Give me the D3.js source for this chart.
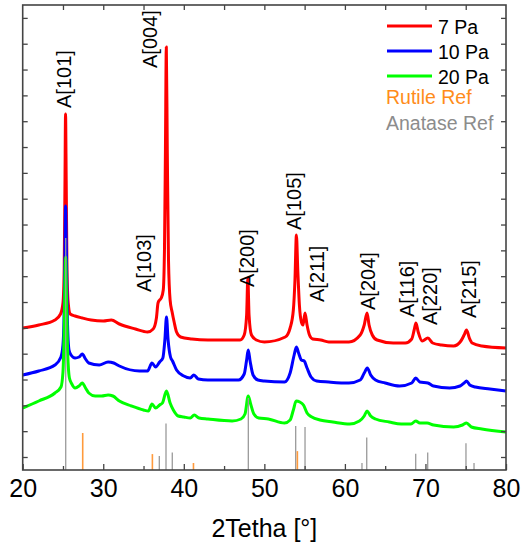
<!DOCTYPE html>
<html>
<head>
<meta charset="utf-8">
<script src="https://cdn.jsdelivr.net/npm/d3@7"></script>
<style>
  body { margin: 0; background: #ffffff; }
  text { font-family: "Liberation Sans", Arial, sans-serif; }
</style>
</head>
<body>
<div class="grafico"></div>
<script>
// 2Theta positions [deg] and intensities [a.u., offset already applied]
var theta7 = [20.0, 22.0, 24.0, 24.7, 25.0, 25.15, 25.25, 25.32, 25.4, 25.5, 25.65, 25.9, 26.5, 27.4, 28.5, 30.0, 31.0, 32.0, 34.0, 35.5,
  36.2, 36.6, 36.8, 37.0, 37.2, 37.45, 37.6, 37.72, 37.83, 37.95, 38.1, 38.3, 38.55, 38.8, 39.1, 39.6, 41.0, 43.0, 45.0, 47.0,
  47.5, 47.8, 47.95, 48.1, 48.4, 49.0, 50.0, 52.6, 53.2, 53.6, 53.8, 53.98, 54.15, 54.35, 54.6, 54.8, 55.05, 55.3, 55.6, 56.0,
  57.0, 58.0, 60.5, 61.9, 62.4, 62.75, 63.0, 63.4, 64.0, 66.0, 67.5, 68.3, 68.6, 68.82, 69.1, 69.6, 70.3, 70.9, 72.0, 73.5,
  74.4, 74.8, 75.1, 75.45, 75.8, 77.0, 80.0];
var int7 = [142, 145, 150, 156, 167, 200, 290, 356, 290, 200, 167, 156, 154, 152, 150, 149, 150, 146, 141, 138,
  141, 152, 167, 170, 172, 180, 220, 320, 423, 320, 210, 170, 158, 148, 138, 133, 131, 130, 130, 130,
  135, 155, 192, 155, 135, 130, 128, 133, 142, 160, 190, 235, 200, 165, 148, 145, 157, 145, 135, 131,
  130, 128, 128, 135, 145, 157, 145, 135, 130, 127, 127, 131, 140, 147, 138, 129, 132, 127, 125, 124,
  129, 135, 140, 132, 127, 124, 122];

var theta10 = [20.0, 22.0, 24.0, 24.75, 25.0, 25.15, 25.25, 25.32, 25.42, 25.55, 25.75, 26.0, 26.5, 27.0, 27.4, 27.8, 28.2, 29.5, 30.6, 31.3,
  32.0, 34.5, 35.5, 36.05, 36.5, 37.0, 37.4, 37.65, 37.85, 38.05, 38.35, 38.6, 39.1, 40.0, 40.8, 41.25, 41.8, 43.0, 46.8, 47.5,
  47.8, 48.0, 48.25, 48.6, 49.2, 50.0, 52.5, 53.2, 53.7, 53.98, 54.25, 54.6, 54.95, 55.3, 55.8, 56.5, 58.0, 60.5, 61.9, 62.4,
  62.78, 63.2, 63.8, 65.0, 66.8, 68.3, 68.8, 69.3, 70.3, 71.0, 73.0, 74.3, 74.8, 75.1, 75.5, 76.2, 78.0, 80.0];
var int10 = [95, 99, 105, 113, 125, 160, 220, 264, 220, 150, 120, 115, 112, 113, 116, 111, 107, 105, 108, 107,
  104, 99, 99, 107, 103, 108, 112, 130, 153, 130, 113, 109, 100, 94, 92, 95, 91, 90, 90, 96,
  110, 120, 108, 95, 90, 89, 88, 97, 115, 123, 117, 110, 109, 102, 93, 89, 88, 87, 90, 97,
  102, 95, 90, 87, 84, 87, 92, 88, 87, 84, 82, 84, 87, 89, 85, 83, 81, 79];

var theta20 = [20.0, 22.0, 24.0, 24.75, 25.0, 25.15, 25.25, 25.32, 25.42, 25.55, 25.8, 26.1, 26.5, 27.0, 27.4, 27.8, 28.2, 29.0, 29.8, 30.6,
  31.2, 32.0, 33.5, 35.0, 35.6, 36.05, 36.5, 37.0, 37.35, 37.85, 38.3, 38.7, 39.3, 40.0, 40.8, 41.3, 41.9, 43.0, 46.0, 47.1,
  47.6, 48.0, 48.3, 48.7, 49.3, 50.5, 52.5, 53.2, 53.6, 53.95, 54.4, 54.85, 55.3, 55.9, 56.9, 58.5, 60.6, 61.8, 62.4, 62.75,
  63.2, 63.8, 65.5, 67.0, 68.2, 68.8, 69.3, 70.2, 71.0, 73.5, 74.6, 75.1, 75.7, 77.0, 80.0];
var int20 = [62, 69, 77, 83, 98, 140, 190, 213, 180, 125, 92, 86, 82, 84, 87, 82, 77, 74, 74, 75,
  74, 69, 64, 60, 59, 66, 62, 65, 67, 79, 67, 60, 54, 53, 52, 55, 52, 51, 49, 51,
  56, 74, 66, 56, 52, 51, 47, 50, 60, 69, 68, 65, 57, 53, 50, 48, 46, 49, 54, 59,
  54, 51, 48, 46, 46, 49, 47, 47, 45, 43, 45, 47, 43, 41, 38];

// reference patterns (relative intensity %)
var anataseTheta = [25.34, 36.96, 37.79, 38.57, 48.01, 53.89, 55.05, 62.12, 62.71, 68.79, 70.28, 75.03, 76.03];
var anataseInt = [100, 6, 20, 7.5, 31, 19, 18.5, 3, 14, 7, 7.5, 11.5, 3];
var rutileTheta = [27.45, 36.1, 41.2, 54.1];
var rutileInt = [100, 43, 19, 51];

var series = ['7 Pa', '10 Pa', '20 Pa'];
var colores = ['#ff0000', '#0000ff', '#00ff00'];

var picos = ['A[101]', 'A[004]', 'A[103]', 'A[200]', 'A[105]', 'A[211]', 'A[204]', 'A[116]', 'A[220]', 'A[215]'];
var picosTheta = [25.25, 35.87, 35.18, 47.91, 53.8, 56.6, 62.99, 67.83, 70.75, 75.53];
var picosNivel = [362, 402, 178, 183, 240, 168, 160, 153, 145, 152];

var xTicks = [20, 30, 40, 50, 60, 70, 80];

var ancho = 521, alto = 545;
var izq = 22.7, der = 506, arriba = 5, abajo = 470;

var svg = d3.select('.grafico')
  .append('svg')
  .attr('width', ancho)
  .attr('height', alto);

var xScale = d3.scaleLinear().domain([20, 80]).range([izq, der]);
var yScale = d3.scaleLinear().domain([0, 465]).range([abajo, arriba]);
// stick heights
var yAnatase = d3.scaleLinear().domain([0, 100]).range([0, 232]);
var yRutile = d3.scaleLinear().domain([0, 100]).range([0, 37]);

var linea = d3.line()
  .x(function (d) { return xScale(d[0]); })
  .y(function (d) { return yScale(d[1]); })
  .curve(d3.curveMonotoneX);

var datos = [d3.zip(theta7, int7), d3.zip(theta10, int10), d3.zip(theta20, int20)];

svg.selectAll('path.curva')
  .data(datos)
  .enter()
  .append('path')
  .attr('class', 'curva')
  .attr('d', linea)
  .attr('fill', 'none')
  .attr('stroke', function (d, i) { return colores[i]; })
  .attr('stroke-width', 3)
  .attr('stroke-linejoin', 'round');

// reference sticks
svg.selectAll('line.anatasa')
  .data(d3.zip(anataseTheta, anataseInt))
  .enter()
  .append('line')
  .attr('class', 'anatasa')
  .attr('x1', function (d) { return xScale(d[0]); })
  .attr('x2', function (d) { return xScale(d[0]); })
  .attr('y1', abajo)
  .attr('y2', function (d) { return abajo - yAnatase(d[1]); })
  .attr('stroke', '#9a9a9a')
  .attr('stroke-width', 1.3);

svg.selectAll('line.rutilo')
  .data(d3.zip(rutileTheta, rutileInt))
  .enter()
  .append('line')
  .attr('class', 'rutilo')
  .attr('x1', function (d) { return xScale(d[0]); })
  .attr('x2', function (d) { return xScale(d[0]); })
  .attr('y1', abajo)
  .attr('y2', function (d) { return abajo - yRutile(d[1]); })
  .attr('stroke', '#ff9a3c')
  .attr('stroke-width', 1.6);

// axes, ticks pointing inward
var ejeX = svg.append('g')
  .attr('transform', 'translate(0,' + abajo + ')')
  .call(d3.axisBottom(xScale).tickValues(xTicks).tickSize(-6).tickPadding(9).tickFormat(d3.format('d')));

svg.append('g')
  .attr('transform', 'translate(0,' + abajo + ')')
  .call(d3.axisBottom(xScale).tickValues([25, 35, 45, 55, 65, 75]).tickSize(-4).tickFormat(''));

svg.append('g')
  .attr('transform', 'translate(0,' + arriba + ')')
  .call(d3.axisTop(xScale).tickValues(d3.range(25, 80, 5)).tickSize(-5).tickFormat(''));

var yTicks = d3.range(0, 18).map(function (k) { return 13 + k * 25.83; });

svg.append('g')
  .attr('transform', 'translate(' + izq + ',0)')
  .call(d3.axisLeft(yScale).tickValues(yTicks).tickSize(-5).tickFormat(''));

svg.append('g')
  .attr('transform', 'translate(' + der + ',0)')
  .call(d3.axisRight(yScale).tickValues(yTicks).tickSize(-5).tickFormat(''));

svg.selectAll('.domain').remove();
svg.selectAll('.tick line').attr('stroke', '#444444').attr('stroke-width', 1.3);

ejeX.selectAll('text')
  .attr('font-size', 25)
  .attr('fill', '#000000')
  .style('font-family', '"Liberation Sans", Arial, sans-serif');

svg.append('rect')
  .attr('x', izq)
  .attr('y', arriba)
  .attr('width', der - izq)
  .attr('height', abajo - arriba)
  .attr('fill', 'none')
  .attr('stroke', '#444444')
  .attr('stroke-width', 1.6);

svg.append('text')
  .attr('x', xScale(50))
  .attr('y', 537)
  .attr('text-anchor', 'middle')
  .attr('font-size', 25)
  .attr('fill', '#000000')
  .text('2Tetha [°]');

// peak labels
svg.selectAll('text.pico')
  .data(picos)
  .enter()
  .append('text')
  .attr('class', 'pico')
  .attr('transform', function (d, i) {
    return 'translate(' + xScale(picosTheta[i]) + ',' + yScale(picosNivel[i]) + ') rotate(-90)';
  })
  .attr('dy', '0.3em')
  .attr('font-size', 20)
  .attr('fill', '#000000')
  .text(function (d) { return d; });

// legend
var leyenda = svg.append('g');

leyenda.selectAll('line')
  .data(series)
  .enter()
  .append('line')
  .attr('x1', 387)
  .attr('x2', 432)
  .attr('y1', function (d, i) { return 26 + i * 25; })
  .attr('y2', function (d, i) { return 26 + i * 25; })
  .attr('stroke', function (d, i) { return colores[i]; })
  .attr('stroke-width', 3);

leyenda.selectAll('text.serie')
  .data(series)
  .enter()
  .append('text')
  .attr('class', 'serie')
  .attr('x', 438)
  .attr('y', function (d, i) { return 33.5 + i * 25; })
  .attr('font-size', 19.5)
  .attr('fill', '#000000')
  .text(function (d) { return d; });

leyenda.append('text')
  .attr('x', 386)
  .attr('y', 104)
  .attr('font-size', 19.5)
  .attr('fill', '#ff8c1a')
  .text('Rutile Ref');

leyenda.append('text')
  .attr('x', 386)
  .attr('y', 130)
  .attr('font-size', 19.5)
  .attr('fill', '#8c8c8c')
  .text('Anatase Ref');
</script>
</body>
</html>
